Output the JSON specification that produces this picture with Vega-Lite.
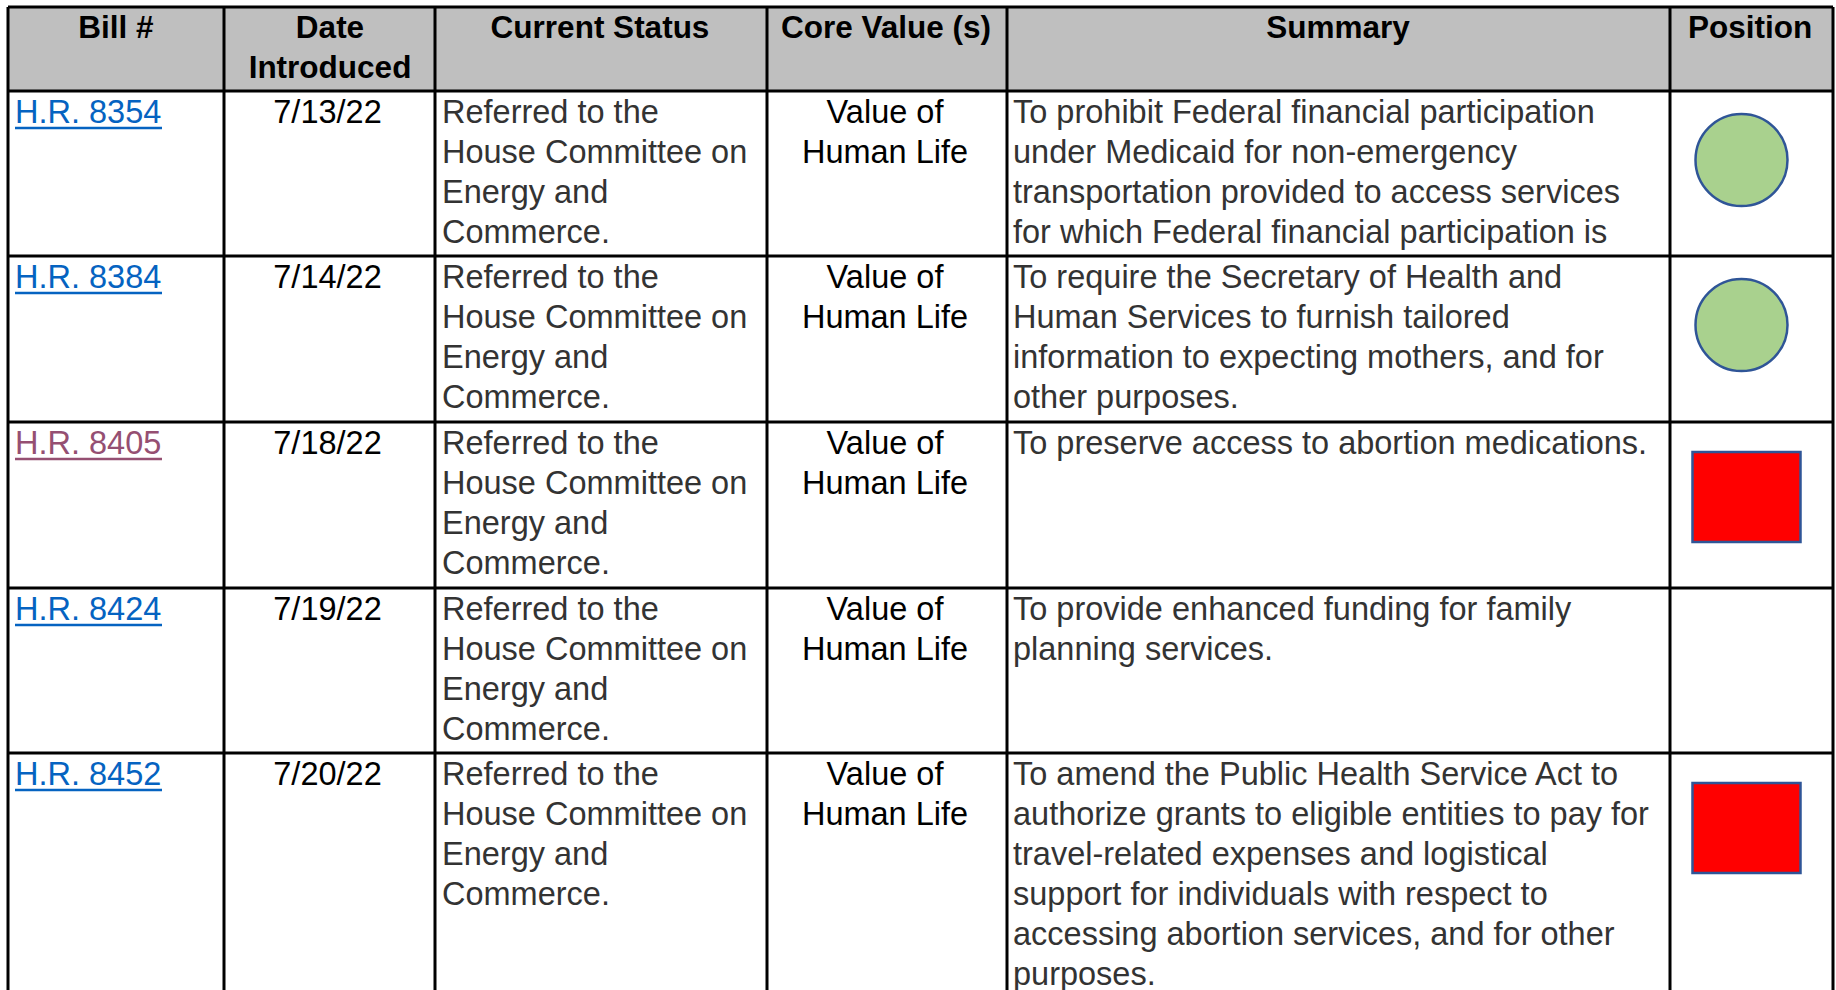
{
  "$schema": "https://vega.github.io/schema/vega-lite/v6.json",
  "width": 1836,
  "height": 990,
  "padding": 0,
  "autosize": {"type": "none"},
  "background": "white",
  "config": {"view": {"stroke": null}, "axis": {"disable": true}},
  "datasets": {
    "bills": [
      {"row": 1, "bill": "H.R. 8354", "link": "unvisited", "date": "7/13/22", "status": "Referred to the\nHouse Committee on\nEnergy and\nCommerce.", "core": "Value of\nHuman Life", "summary": "To prohibit Federal financial participation\nunder Medicaid for non-emergency\ntransportation provided to access services\nfor which Federal financial participation is", "position": "Support"},
      {"row": 2, "bill": "H.R. 8384", "link": "unvisited", "date": "7/14/22", "status": "Referred to the\nHouse Committee on\nEnergy and\nCommerce.", "core": "Value of\nHuman Life", "summary": "To require the Secretary of Health and\nHuman Services to furnish tailored\ninformation to expecting mothers, and for\nother purposes.", "position": "Support"},
      {"row": 3, "bill": "H.R. 8405", "link": "visited", "date": "7/18/22", "status": "Referred to the\nHouse Committee on\nEnergy and\nCommerce.", "core": "Value of\nHuman Life", "summary": "To preserve access to abortion medications.", "position": "Oppose"},
      {"row": 4, "bill": "H.R. 8424", "link": "unvisited", "date": "7/19/22", "status": "Referred to the\nHouse Committee on\nEnergy and\nCommerce.", "core": "Value of\nHuman Life", "summary": "To provide enhanced funding for family\nplanning services.", "position": ""},
      {"row": 5, "bill": "H.R. 8452", "link": "unvisited", "date": "7/20/22", "status": "Referred to the\nHouse Committee on\nEnergy and\nCommerce.", "core": "Value of\nHuman Life", "summary": "To amend the Public Health Service Act to\nauthorize grants to eligible entities to pay for\ntravel-related expenses and logistical\nsupport for individuals with respect to\naccessing abortion services, and for other\npurposes.", "position": "Oppose"}
    ],
    "header": [
      {"col": 0, "label": "Bill #"},
      {"col": 1, "label": "Date\nIntroduced"},
      {"col": 2, "label": "Current Status"},
      {"col": 3, "label": "Core Value (s)"},
      {"col": 4, "label": "Summary"},
      {"col": 5, "label": "Position"}
    ],
    "edges": [{"i": 0}, {"i": 1}, {"i": 2}, {"i": 3}, {"i": 4}, {"i": 5}, {"i": 6}]
  },
  "resolve": {"scale": {"x": "independent", "color": "independent"}},
  "layer": [
    {
      "data": {"name": "header"},
      "mark": {"type": "rect", "fill": "#BFBFBF"},
      "encoding": {
        "x": {"datum": 0, "type": "quantitative", "axis": null, "scale": {"domain": [0, 1, 2, 3, 4, 5, 6], "range": [8, 224, 435, 767, 1007, 1670, 1833], "nice": false, "zero": false}},
        "x2": {"datum": 6},
        "y": {"datum": 0, "type": "quantitative", "axis": null, "scale": {"domain": [0, 1, 2, 3, 4, 5, 6], "range": [7, 91, 256, 422, 588, 753, 1035], "nice": false, "zero": false}},
        "y2": {"datum": 1}
      }
    },
    {
      "data": {"name": "header"},
      "mark": {"type": "text", "font": "Liberation Sans", "fontWeight": "bold", "fontSize": 31.5, "lineBreak": "\n", "lineHeight": 40, "align": "center", "baseline": "alphabetic", "dy": 31, "color": "#000000"},
      "encoding": {
        "x": {"field": "col", "type": "quantitative", "axis": null, "scale": {"domain": [0, 1, 2, 3, 4, 5], "range": [116, 330, 600, 886, 1338, 1750], "nice": false, "zero": false}},
        "y": {"datum": 0, "type": "quantitative", "axis": null, "scale": {"domain": [0, 1, 2, 3, 4, 5, 6], "range": [7, 91, 256, 422, 588, 753, 1035], "nice": false, "zero": false}},
        "text": {"field": "label", "type": "nominal"}
      }
    },
    {
      "data": {"name": "bills"},
      "transform": [{"filter": "datum.position === 'Support'"}],
      "mark": {"type": "point", "shape": "circle", "filled": true, "fill": "#A9D18E", "fillOpacity": 1, "stroke": "#2F5597", "strokeWidth": 2.5, "size": 8464, "xOffset": -10, "yOffset": 69, "opacity": 1},
      "encoding": {
        "x": {"datum": 5.5, "type": "quantitative", "axis": null, "scale": {"domain": [0, 1, 2, 3, 4, 5, 6], "range": [8, 224, 435, 767, 1007, 1670, 1833], "nice": false, "zero": false}},
        "y": {"field": "row", "type": "quantitative", "axis": null, "scale": {"domain": [0, 1, 2, 3, 4, 5, 6], "range": [7, 91, 256, 422, 588, 753, 1035], "nice": false, "zero": false}}
      }
    },
    {
      "data": {"name": "bills"},
      "transform": [{"filter": "datum.position === 'Oppose'"}],
      "mark": {"type": "point", "shape": "M-1.174,-0.978H1.174V0.978H-1.174Z", "filled": true, "fill": "#FF0000", "fillOpacity": 1, "stroke": "#2F5597", "strokeWidth": 2.5, "size": 8464, "xOffset": -5, "yOffset": 75, "opacity": 1},
      "encoding": {
        "x": {"datum": 5.5, "type": "quantitative", "axis": null, "scale": {"domain": [0, 1, 2, 3, 4, 5, 6], "range": [8, 224, 435, 767, 1007, 1670, 1833], "nice": false, "zero": false}},
        "y": {"field": "row", "type": "quantitative", "axis": null, "scale": {"domain": [0, 1, 2, 3, 4, 5, 6], "range": [7, 91, 256, 422, 588, 753, 1035], "nice": false, "zero": false}}
      }
    },
    {
      "data": {"name": "bills"},
      "mark": {"type": "text", "font": "Liberation Sans", "fontSize": 32.5, "align": "left", "baseline": "alphabetic", "dx": 7, "dy": 32},
      "encoding": {
        "x": {"datum": 0, "type": "quantitative", "axis": null, "scale": {"domain": [0, 1, 2, 3, 4, 5, 6], "range": [8, 224, 435, 767, 1007, 1670, 1833], "nice": false, "zero": false}},
        "y": {"field": "row", "type": "quantitative", "axis": null, "scale": {"domain": [0, 1, 2, 3, 4, 5, 6], "range": [7, 91, 256, 422, 588, 753, 1035], "nice": false, "zero": false}},
        "text": {"field": "bill", "type": "nominal"},
        "color": {"field": "link", "type": "nominal", "legend": null, "scale": {"domain": ["unvisited", "visited"], "range": ["#0563C1", "#954F72"]}}
      }
    },
    {
      "data": {"name": "bills"},
      "mark": {"type": "rule", "strokeWidth": 2.5, "xOffset": 7, "x2Offset": 154, "yOffset": 37, "y2Offset": 37},
      "encoding": {
        "x": {"datum": 0, "type": "quantitative", "axis": null, "scale": {"domain": [0, 1, 2, 3, 4, 5, 6], "range": [8, 224, 435, 767, 1007, 1670, 1833], "nice": false, "zero": false}},
        "x2": {"datum": 0},
        "y": {"field": "row", "type": "quantitative", "axis": null, "scale": {"domain": [0, 1, 2, 3, 4, 5, 6], "range": [7, 91, 256, 422, 588, 753, 1035], "nice": false, "zero": false}},
        "color": {"field": "link", "type": "nominal", "legend": null, "scale": {"domain": ["unvisited", "visited"], "range": ["#0563C1", "#954F72"]}}
      }
    },
    {
      "data": {"name": "bills"},
      "mark": {"type": "text", "font": "Liberation Sans", "fontSize": 32.5, "align": "center", "baseline": "alphabetic", "dy": 32, "dx": -2, "color": "#000000"},
      "encoding": {
        "x": {"datum": 1.5, "type": "quantitative", "axis": null, "scale": {"domain": [0, 1, 2, 3, 4, 5, 6], "range": [8, 224, 435, 767, 1007, 1670, 1833], "nice": false, "zero": false}},
        "y": {"field": "row", "type": "quantitative", "axis": null, "scale": {"domain": [0, 1, 2, 3, 4, 5, 6], "range": [7, 91, 256, 422, 588, 753, 1035], "nice": false, "zero": false}},
        "text": {"field": "date", "type": "nominal"}
      }
    },
    {
      "data": {"name": "bills"},
      "mark": {"type": "text", "font": "Liberation Sans", "fontSize": 32.5, "lineBreak": "\n", "lineHeight": 40, "align": "left", "baseline": "alphabetic", "dx": 7, "dy": 32, "color": "#333333"},
      "encoding": {
        "x": {"datum": 2, "type": "quantitative", "axis": null, "scale": {"domain": [0, 1, 2, 3, 4, 5, 6], "range": [8, 224, 435, 767, 1007, 1670, 1833], "nice": false, "zero": false}},
        "y": {"field": "row", "type": "quantitative", "axis": null, "scale": {"domain": [0, 1, 2, 3, 4, 5, 6], "range": [7, 91, 256, 422, 588, 753, 1035], "nice": false, "zero": false}},
        "text": {"field": "status", "type": "nominal"}
      }
    },
    {
      "data": {"name": "bills"},
      "mark": {"type": "text", "font": "Liberation Sans", "fontSize": 32.5, "lineBreak": "\n", "lineHeight": 40, "align": "center", "baseline": "alphabetic", "dy": 32, "dx": -2, "color": "#000000"},
      "encoding": {
        "x": {"datum": 3.5, "type": "quantitative", "axis": null, "scale": {"domain": [0, 1, 2, 3, 4, 5, 6], "range": [8, 224, 435, 767, 1007, 1670, 1833], "nice": false, "zero": false}},
        "y": {"field": "row", "type": "quantitative", "axis": null, "scale": {"domain": [0, 1, 2, 3, 4, 5, 6], "range": [7, 91, 256, 422, 588, 753, 1035], "nice": false, "zero": false}},
        "text": {"field": "core", "type": "nominal"}
      }
    },
    {
      "data": {"name": "bills"},
      "mark": {"type": "text", "font": "Liberation Sans", "fontSize": 32.5, "lineBreak": "\n", "lineHeight": 40, "align": "left", "baseline": "alphabetic", "dx": 6, "dy": 32, "color": "#333333"},
      "encoding": {
        "x": {"datum": 4, "type": "quantitative", "axis": null, "scale": {"domain": [0, 1, 2, 3, 4, 5, 6], "range": [8, 224, 435, 767, 1007, 1670, 1833], "nice": false, "zero": false}},
        "y": {"field": "row", "type": "quantitative", "axis": null, "scale": {"domain": [0, 1, 2, 3, 4, 5, 6], "range": [7, 91, 256, 422, 588, 753, 1035], "nice": false, "zero": false}},
        "text": {"field": "summary", "type": "nominal"}
      }
    },
    {
      "data": {"name": "edges"},
      "mark": {"type": "rule", "color": "#000000", "strokeWidth": 3},
      "encoding": {
        "x": {"field": "i", "type": "quantitative", "axis": null, "scale": {"domain": [0, 1, 2, 3, 4, 5, 6], "range": [8, 224, 435, 767, 1007, 1670, 1833], "nice": false, "zero": false}},
        "y": {"datum": 0, "type": "quantitative", "axis": null, "scale": {"domain": [0, 1, 2, 3, 4, 5, 6], "range": [7, 91, 256, 422, 588, 753, 1035], "nice": false, "zero": false}},
        "y2": {"datum": 6}
      }
    },
    {
      "data": {"name": "edges"},
      "mark": {"type": "rule", "color": "#000000", "strokeWidth": 3},
      "encoding": {
        "y": {"field": "i", "type": "quantitative", "axis": null, "scale": {"domain": [0, 1, 2, 3, 4, 5, 6], "range": [7, 91, 256, 422, 588, 753, 1035], "nice": false, "zero": false}},
        "x": {"datum": 0, "type": "quantitative", "axis": null, "scale": {"domain": [0, 1, 2, 3, 4, 5, 6], "range": [8, 224, 435, 767, 1007, 1670, 1833], "nice": false, "zero": false}},
        "x2": {"datum": 6}
      }
    }
  ]
}
